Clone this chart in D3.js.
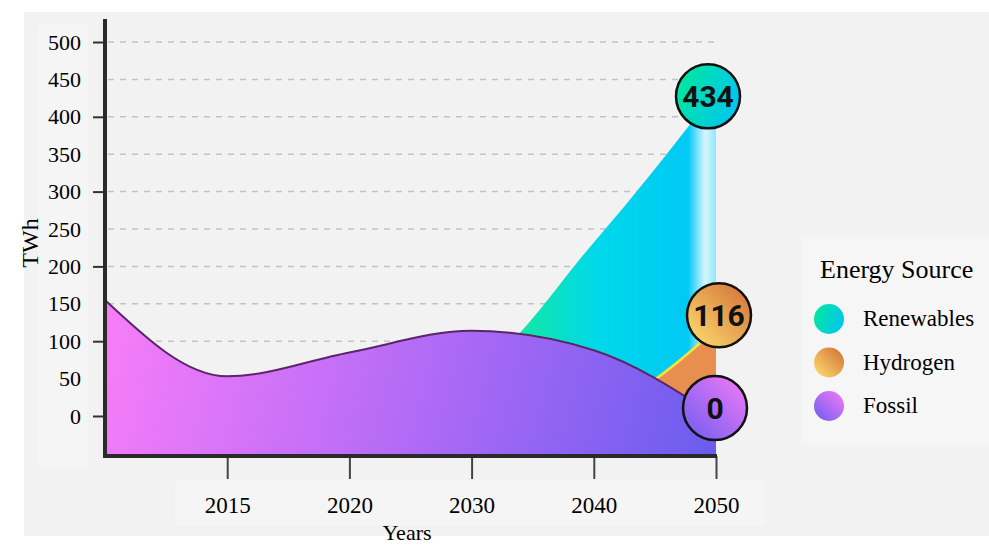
<!DOCTYPE html>
<html>
<head>
<meta charset="utf-8">
<script src="https://cdn.jsdelivr.net/npm/d3@7"></script>
<style>
  body { margin: 0; background: #ffffff; }
  svg { display: block; }
</style>
</head>
<body>
<div id="chart"></div>
<script>
// data
const years = ["2010", "2015", "2020", "2030", "2040", "2050"]
const tickYears = ["2015", "2020", "2030", "2040", "2050"]
const yTicks = [0, 50, 100, 150, 200, 250, 300, 350, 400, 450, 500]
const seriesNames = ["Renewables", "Hydrogen", "Fossil"]
const renewables = [5, 12, 28, 60, 232, 434]
const hydrogen = [1, 2, 4, 6, 14, 116]
const fossil = [155, 53, 85, 114, 88, 0]

const width = 989
const height = 547
const plotBottom = 456
const serif = "'Liberation Serif', 'Times New Roman', serif"

const svg = d3.select("#chart")
    .append("svg")
    .attr("width", width)
    .attr("height", height)

const defs = svg.append("defs")

function grad(id, attrs, stops) {
    const g = defs.append("linearGradient").attr("id", id)
    Object.entries(attrs).forEach(([k, v]) => g.attr(k, v))
    stops.forEach(s => g.append("stop").attr("offset", s[0]).attr("stop-color", s[1]))
}

// area fills
grad("fossilFill", {gradientUnits: "userSpaceOnUse", x1: 105, y1: 300, x2: 716, y2: 456},
    [[0, "#f87df9"], [0.5, "#b46bf6"], [1, "#6a5cee"]])
grad("renewFill", {gradientUnits: "userSpaceOnUse", x1: 500, y1: 0, x2: 716, y2: 0},
    [[0.08, "#12e8a2"], [0.45, "#00d8ea"], [0.87, "#00c9f5"], [0.95, "#d8f6ff"], [1, "#8fe8fa"]])
// bubble / legend fills
grad("renewBall", {x1: 0, y1: 0.3, x2: 1, y2: 0.7}, [[0, "#00e79e"], [1, "#00c5f3"]])
grad("hydroBall", {x1: 0, y1: 1, x2: 1, y2: 0}, [[0, "#ffe274"], [1, "#d26c33"]])
grad("fossilBall", {x1: 0, y1: 1, x2: 1, y2: 0}, [[0, "#6b5cef"], [1, "#f77bf8"]])

const ballFill = {Renewables: "url(#renewBall)", Hydrogen: "url(#hydroBall)", Fossil: "url(#fossilBall)"}

// background panel and the lighter boxes behind the labels
svg.append("rect").attr("x", 24).attr("y", 12).attr("width", 965).attr("height", 524).attr("fill", "#f2f2f2")
svg.append("rect").attr("x", 38).attr("y", 25).attr("width", 50).attr("height", 443).attr("fill", "#f5f5f5")
svg.append("rect").attr("x", 175).attr("y", 481).attr("width", 590).attr("height", 44).attr("fill", "#f5f5f5")
svg.append("rect").attr("x", 801).attr("y", 237).attr("width", 188).attr("height", 208).attr("fill", "#f6f6f6")

const xScale = d3.scalePoint()
    .domain(years)
    .range([105, 716])

const yScale = d3.scaleLinear()
    .domain([0, 500])
    .range([416, 42])

// dashed grid
svg.append("g")
    .selectAll("line")
    .data(yTicks)
    .enter().append("line")
    .attr("x1", 108)
    .attr("x2", xScale("2050"))
    .attr("y1", d => yScale(d))
    .attr("y2", d => yScale(d))
    .attr("stroke", "#c3c3c3")
    .attr("stroke-width", 1.5)
    .attr("stroke-dasharray", "6,6")

const area = values => d3.area()
    .x((d, i) => xScale(years[i]))
    .y0(plotBottom)
    .y1(d => yScale(d))
    .curve(d3.curveMonotoneX)(values)

const line = values => d3.line()
    .x((d, i) => xScale(years[i]))
    .y(d => yScale(d))
    .curve(d3.curveMonotoneX)(values)

// renewables behind, then hydrogen, fossil on top
svg.append("path").attr("d", area(renewables)).attr("fill", "url(#renewFill)")

svg.append("path").attr("d", area(hydrogen)).attr("fill", "#e68f4f")
svg.append("path").attr("d", line(hydrogen)).attr("fill", "none")
    .attr("stroke", "#f6e23a").attr("stroke-width", 2.5)

svg.append("path").attr("d", area(fossil)).attr("fill", "url(#fossilFill)")
svg.append("path").attr("d", line(fossil)).attr("fill", "none")
    .attr("stroke", "#5a2668").attr("stroke-width", 2)

// y axis
const yAxis = svg.append("g")
    .attr("transform", "translate(105,0)")
    .call(d3.axisLeft(yScale).tickValues(yTicks).tickSizeInner(12).tickSizeOuter(0).tickPadding(12))
yAxis.select(".domain").remove()
yAxis.selectAll(".tick line")
    .attr("stroke", "#333")
    .attr("stroke-width", 2)
    .filter(d => d % 100 !== 0).remove()
yAxis.selectAll(".tick text")
    .attr("font-family", serif)
    .attr("font-size", 22)
    .attr("fill", "#000")

// x axis
const xAxis = svg.append("g")
    .attr("transform", `translate(0,${plotBottom})`)
    .call(d3.axisBottom(xScale).tickValues(tickYears).tickSizeInner(23).tickSizeOuter(0).tickPadding(18))
xAxis.select(".domain").remove()
xAxis.selectAll(".tick line").attr("stroke", "#444").attr("stroke-width", 2)
xAxis.selectAll(".tick text")
    .attr("font-family", serif)
    .attr("font-size", 23)
    .attr("fill", "#000")

// heavy axis lines
svg.append("line").attr("x1", 105).attr("x2", 105).attr("y1", 19).attr("y2", plotBottom + 2)
    .attr("stroke", "#2a2a2a").attr("stroke-width", 4)
svg.append("line").attr("x1", 103).attr("x2", xScale("2050") + 1).attr("y1", plotBottom).attr("y2", plotBottom)
    .attr("stroke", "#2a2a2a").attr("stroke-width", 4)

// axis titles
svg.append("text")
    .attr("transform", "translate(38,243) rotate(-90)")
    .attr("text-anchor", "middle")
    .attr("font-family", serif)
    .attr("font-size", 24)
    .attr("fill", "#000")
    .text("TWh")

svg.append("text")
    .attr("x", 407)
    .attr("y", 540)
    .attr("text-anchor", "middle")
    .attr("font-family", serif)
    .attr("font-size", 22)
    .attr("fill", "#000")
    .text("Years")

// end-value bubbles
const lastValues = [renewables, hydrogen, fossil].map(s => s[s.length - 1])
const nudge = {Renewables: [-8, 5], Hydrogen: [3, -14], Fossil: [-1, -8]}

const bubbles = svg.append("g")
    .selectAll("g")
    .data(seriesNames.map((name, i) => ({name: name, value: lastValues[i]})))
    .enter().append("g")
    .attr("transform", d => `translate(${xScale("2050") + nudge[d.name][0]},${yScale(d.value) + nudge[d.name][1]})`)

bubbles.append("circle")
    .attr("r", 32)
    .attr("fill", d => ballFill[d.name])
    .attr("stroke", "#111")
    .attr("stroke-width", 2.5)

bubbles.append("text")
    .attr("text-anchor", "middle")
    .attr("dy", "0.36em")
    .attr("font-family", "Roboto, 'Liberation Sans', sans-serif")
    .attr("font-weight", "bold")
    .attr("font-size", 30)
    .attr("fill", "#111")
    .text(d => d.value)

// legend
svg.append("text")
    .attr("x", 820)
    .attr("y", 278)
    .attr("font-family", serif)
    .attr("font-size", 26)
    .attr("fill", "#000")
    .text("Energy Source")

const legend = svg.append("g")
    .selectAll("g")
    .data(seriesNames)
    .enter().append("g")
    .attr("transform", (d, i) => `translate(829,${319 + i * 43.5})`)

legend.append("circle")
    .attr("r", 15)
    .attr("fill", d => ballFill[d])

legend.append("text")
    .attr("x", 34)
    .attr("dy", "0.32em")
    .attr("font-family", serif)
    .attr("font-size", 23)
    .attr("fill", "#000")
    .text(d => d)
</script>
</body>
</html>
